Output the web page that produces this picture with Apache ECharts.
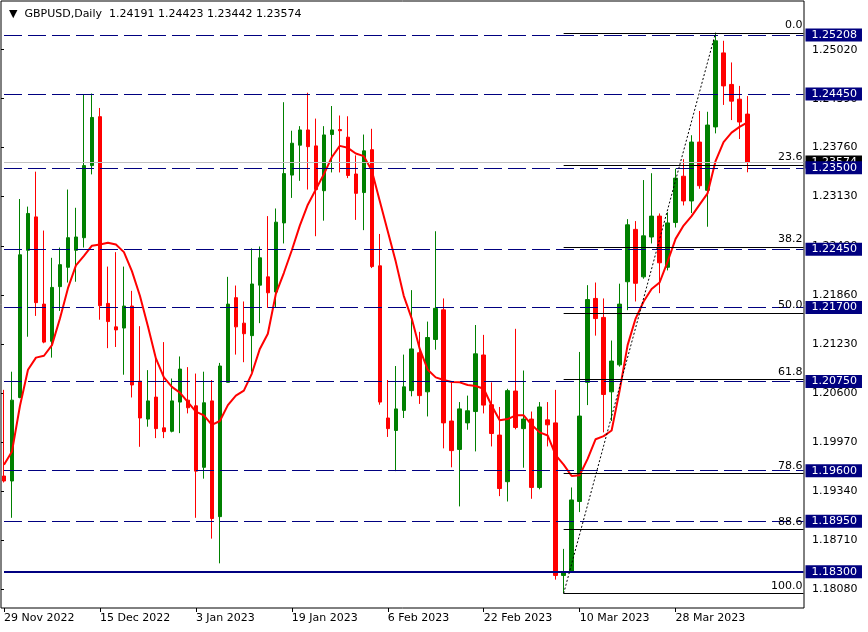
<!DOCTYPE html>
<html>
<head>
<meta charset="utf-8">
<script src="https://cdn.jsdelivr.net/npm/echarts@6/dist/echarts.min.js"></script>
<style>html,body{margin:0;padding:0;background:#fff}#c{width:868px;height:632px}</style>
</head>
<body>
<div id="c"></div>
<script>
const dates = ['29 Nov 2022','30 Nov 2022','1 Dec 2022','2 Dec 2022','5 Dec 2022','6 Dec 2022','7 Dec 2022','8 Dec 2022','9 Dec 2022','12 Dec 2022','13 Dec 2022','14 Dec 2022','15 Dec 2022','16 Dec 2022','19 Dec 2022','20 Dec 2022','21 Dec 2022','22 Dec 2022','23 Dec 2022','27 Dec 2022','28 Dec 2022','29 Dec 2022','30 Dec 2022','2 Jan 2023','3 Jan 2023','4 Jan 2023','5 Jan 2023','6 Jan 2023','9 Jan 2023','10 Jan 2023','11 Jan 2023','12 Jan 2023','13 Jan 2023','16 Jan 2023','17 Jan 2023','18 Jan 2023','19 Jan 2023','20 Jan 2023','23 Jan 2023','24 Jan 2023','25 Jan 2023','26 Jan 2023','27 Jan 2023','30 Jan 2023','31 Jan 2023','1 Feb 2023','2 Feb 2023','3 Feb 2023','6 Feb 2023','7 Feb 2023','8 Feb 2023','9 Feb 2023','10 Feb 2023','13 Feb 2023','14 Feb 2023','15 Feb 2023','16 Feb 2023','17 Feb 2023','20 Feb 2023','21 Feb 2023','22 Feb 2023','23 Feb 2023','24 Feb 2023','27 Feb 2023','28 Feb 2023','1 Mar 2023','2 Mar 2023','3 Mar 2023','6 Mar 2023','7 Mar 2023','8 Mar 2023','9 Mar 2023','10 Mar 2023','13 Mar 2023','14 Mar 2023','15 Mar 2023','16 Mar 2023','17 Mar 2023','20 Mar 2023','21 Mar 2023','22 Mar 2023','23 Mar 2023','24 Mar 2023','27 Mar 2023','28 Mar 2023','29 Mar 2023','30 Mar 2023','31 Mar 2023','3 Apr 2023','4 Apr 2023','5 Apr 2023','6 Apr 2023','7 Apr 2023','10 Apr 2023'];

const opens = [1.19532,1.19468,1.20543,1.22438,1.22868,1.21745,1.21266,1.21970,1.22219,1.22438,1.22600,1.23528,1.24158,1.21754,1.21452,1.21437,1.21720,1.20753,1.20265,1.20548,1.20152,1.20108,1.20484,1.20509,1.20436,1.19644,1.20499,1.19009,1.20738,1.21828,1.21500,1.21339,1.21989,1.22096,1.21901,1.22790,1.23406,1.23791,1.23987,1.23782,1.23205,1.23928,1.23992,1.23894,1.23420,1.23181,1.23733,1.22238,1.20279,1.20118,1.20377,1.20631,1.21119,1.20616,1.21290,1.21671,1.20240,1.19874,1.20216,1.20362,1.21090,1.20450,1.20059,1.19459,1.20626,1.20142,1.20265,1.19385,1.20255,1.20216,1.18252,1.18301,1.19204,1.20738,1.21818,1.21574,1.20616,1.20963,1.22033,1.22707,1.22096,1.22609,1.22878,1.22219,1.22795,1.23391,1.23073,1.23831,1.23210,1.24026,1.24979,1.24573,1.24383,1.24191];
const highs = [1.20641,1.20875,1.23098,1.23000,1.23450,1.22692,1.22341,1.22473,1.23220,1.22985,1.24441,1.24456,1.24270,1.22228,1.22414,1.22228,1.21916,1.21461,1.20895,1.21095,1.21256,1.20787,1.21071,1.20934,1.20851,1.20875,1.20768,1.20988,1.22096,1.21984,1.21779,1.22463,1.22487,1.22878,1.22976,1.24344,1.23977,1.24036,1.24466,1.24133,1.24036,1.24295,1.24173,1.24163,1.23660,1.23928,1.24002,1.22648,1.20768,1.20948,1.21095,1.21925,1.21388,1.21520,1.22683,1.21818,1.20738,1.20484,1.20567,1.21476,1.21349,1.20738,1.20421,1.20655,1.21427,1.20890,1.20362,1.20484,1.20484,1.20641,1.18594,1.19385,1.21129,1.21989,1.22023,1.21818,1.21276,1.22008,1.22839,1.22814,1.23342,1.23430,1.22912,1.22927,1.23489,1.23611,1.23919,1.24231,1.24221,1.25238,1.25135,1.24856,1.24554,1.24423];
const lows = [1.19449,1.18994,1.20533,1.21325,1.21593,1.21241,1.21056,1.21657,1.22023,1.22033,1.22473,1.23415,1.21544,1.21178,1.21193,1.20836,1.20543,1.19908,1.20167,1.20020,1.20020,1.20094,1.20084,1.20338,1.18994,1.19498,1.18726,1.18408,1.20738,1.21095,1.20997,1.20875,1.21500,1.21696,1.21696,1.22526,1.23112,1.23332,1.23220,1.22619,1.22819,1.23440,1.23440,1.23367,1.22829,1.22697,1.22209,1.20450,1.20035,1.19595,1.20279,1.20558,1.20460,1.20299,1.21158,1.19888,1.19644,1.19141,1.20128,1.19849,1.20338,1.19913,1.19273,1.19204,1.20133,1.19639,1.19239,1.19361,1.19913,1.18198,1.18021,1.18290,1.19068,1.20445,1.21339,1.20094,1.20240,1.20940,1.21667,1.21779,1.22072,1.22526,1.21886,1.22179,1.22731,1.23015,1.22917,1.23230,1.22741,1.23943,1.24309,1.24114,1.23870,1.23442];
const closes = [1.19468,1.20509,1.22380,1.22912,1.21764,1.21256,1.21960,1.22253,1.22600,1.22609,1.23528,1.24148,1.21725,1.21520,1.21413,1.21720,1.20704,1.20279,1.20499,1.20142,1.20103,1.20499,1.20909,1.20411,1.19595,1.20475,1.18985,1.20948,1.21745,1.21452,1.21364,1.22004,1.22341,1.21891,1.22800,1.23425,1.23816,1.23987,1.23772,1.23220,1.23923,1.23987,1.23977,1.23401,1.23171,1.23718,1.22228,1.20484,1.20142,1.20396,1.20680,1.21168,1.20567,1.21315,1.21691,1.20216,1.19859,1.20396,1.20372,1.21105,1.20445,1.20079,1.19371,1.20631,1.20157,1.20265,1.19385,1.20421,1.20191,1.18252,1.18301,1.19224,1.20304,1.21803,1.21559,1.20582,1.21012,1.21745,1.22766,1.22013,1.22624,1.22878,1.22277,1.22790,1.23367,1.23073,1.23831,1.23269,1.24050,1.25135,1.24554,1.24358,1.24089,1.23574];
const maValues = [1.19678,1.19849,1.20436,1.20900,1.21056,1.21080,1.21217,1.21559,1.21950,1.22243,1.22365,1.22497,1.22512,1.22536,1.22512,1.22414,1.22170,1.21852,1.21461,1.21046,1.20802,1.20680,1.20606,1.20484,1.20362,1.20313,1.20191,1.20240,1.20445,1.20567,1.20631,1.20851,1.21168,1.21364,1.21876,1.22145,1.22438,1.22756,1.23025,1.23220,1.23415,1.23635,1.23782,1.23757,1.23684,1.23650,1.23464,1.23073,1.22683,1.22292,1.21852,1.21559,1.21168,1.20900,1.20802,1.20768,1.20743,1.20738,1.20704,1.20690,1.20655,1.20436,1.20250,1.20265,1.20313,1.20313,1.20191,1.20094,1.20054,1.19800,1.19678,1.19532,1.19542,1.19752,1.20006,1.20045,1.20118,1.20631,1.21217,1.21559,1.21779,1.21940,1.22023,1.22292,1.22585,1.22756,1.22878,1.23025,1.23171,1.23586,1.23831,1.23953,1.24026,1.24085];

const levels = [1.25208,1.24450,1.23500,1.22450,1.21700,1.20750,1.19600,1.18950,1.18300];
const solidLevel = 1.18300;
const bidPrice = 1.23574;
const fibLabels = ['0.0','23.6','38.2','50.0','61.8','78.6','88.6','100.0'];
const fibPrices = [1.25238,1.23535,1.22481,1.21630,1.20778,1.19565,1.18844,1.18021];
const swingLowIndex = 70, swingHighIndex = 89;
const swingLow = 1.18021, swingHigh = 1.25238;
const yTickLabels = [1.18080,1.18710,1.19340,1.19970,1.20600,1.21230,1.21860,1.22490,1.23130,1.23760,1.24390,1.25020];
const symbolName = 'GBPUSD', timeframe = 'Daily';

const FONT = 'DejaVu Sans';
const PAD = 7;
const axisCats = dates.concat(new Array(PAD).fill(''));
const lastIdx = dates.length - 1;
const endCat = axisCats.length - 1;
const yMin = 1.17833, yMax = 1.25647;

const candleData = dates.map((d, i) => [opens[i], closes[i], lows[i], highs[i]]);

const header = '\u25BC  ' + symbolName + ',' + timeframe + '  ' +
  [opens[lastIdx], highs[lastIdx], lows[lastIdx], closes[lastIdx]].map(v => v.toFixed(5)).join(' ');

function fullLine(v, lineStyle, boxColor) {
  return [
    { coord: [0, v], lineStyle: lineStyle,
      label: { show: true, position: 'end', distance: 2, formatter: v.toFixed(5),
        backgroundColor: boxColor, color: '#ffffff', fontFamily: FONT, fontSize: 11,
        lineHeight: 12, padding: [1, 5, 0, 6] } },
    { coord: [endCat, v] }
  ];
}
const bidLine = fullLine(bidPrice, { color: '#c0c0c0', width: 1, type: 'solid' }, '#000000');
const levelLines = levels.map(v => {
  const solid = v === solidLevel;
  return fullLine(v, { color: '#000080', width: solid ? 2 : 1, type: solid ? 'solid' : [18, 6], dashOffset: 0 }, '#000080');
});

const fibLines = fibPrices.map((p, k) => [
  { coord: [swingLowIndex, p], lineStyle: { color: '#000', width: 1, type: 'solid' },
    label: { show: true, position: 'insideEndTop', distance: [1, 2], formatter: fibLabels[k],
      color: '#000', fontFamily: FONT, fontSize: 11 } },
  { coord: [endCat, p] }
]);
const trendLine = [
  { coord: [swingLowIndex, swingLow], lineStyle: { color: '#000', width: 1, type: [2, 2] }, label: { show: false } },
  { coord: [swingHighIndex, swingHigh] }
];

const showEvery = (idx, val) => idx % 12 === 0 && val !== '';

const chart = echarts.init(document.getElementById('c'), null, { renderer: 'canvas' });
chart.setOption({
  animation: false,
  backgroundColor: '#ffffff',
  title: { text: header, left: 4, top: 4,
    textStyle: { fontFamily: FONT, fontSize: 11, fontWeight: 'normal', color: '#000' } },
  grid: [
    { left: -0.5, right: 60.5, top: 1, bottom: 24, containLabel: false },
    { left: 1, right: 64, top: 1, bottom: 24, show: true, borderColor: '#000', borderWidth: 1,
      backgroundColor: 'transparent', containLabel: false }
  ],
  xAxis: [
    { type: 'category', gridIndex: 0, data: axisCats, boundaryGap: true,
      axisLine: { show: false },
      axisTick: { show: true, alignWithLabel: true, interval: showEvery, length: 4, lineStyle: { color: '#000' } },
      axisLabel: { interval: showEvery, align: 'left', margin: 5, color: '#000', fontFamily: FONT, fontSize: 11 },
      splitLine: { show: false } },
    { type: 'value', gridIndex: 1, min: 0, max: 1, show: false }
  ],
  yAxis: [
    { type: 'value', gridIndex: 0, min: yMin, max: yMax, show: false, splitLine: { show: false } },
    { type: 'value', gridIndex: 1, min: yMin, max: yMax, position: 'right',
      axisLine: { show: false },
      axisTick: { show: true, customValues: yTickLabels, length: 3, lineStyle: { color: '#000' } },
      axisLabel: { customValues: yTickLabels, formatter: v => v.toFixed(5), margin: 8,
        color: '#000', fontFamily: FONT, fontSize: 11 },
      splitLine: { show: false } }
  ],
  series: [
    { type: 'candlestick', xAxisIndex: 0, yAxisIndex: 0, data: candleData, barWidth: 4,
      itemStyle: { color: '#008000', color0: '#ff0000', borderColor: '#008000', borderColor0: '#ff0000', borderWidth: 1 },
      silent: true, z: 2,
      markLine: { silent: true, symbol: ['none', 'none'], animation: false, precision: 5,
        data: [bidLine].concat(levelLines, fibLines, [trendLine]) } },
    { type: 'line', xAxisIndex: 0, yAxisIndex: 0, data: maValues, showSymbol: false, symbol: 'none',
      lineStyle: { color: '#ff0000', width: 2 }, silent: true, z: 3 }
  ]
});
</script>
</body>
</html>
